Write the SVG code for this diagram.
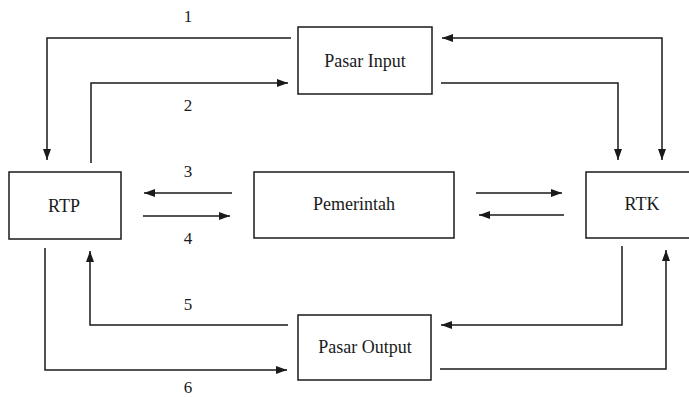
<svg xmlns="http://www.w3.org/2000/svg" width="689" height="397" viewBox="0 0 689 397">
<style>
.box{fill:#fff;stroke:#1a1a1a;stroke-width:1.5}
.lbl{font-size:18px;fill:#1a1a1a;text-anchor:middle}
.num{font-size:17px;fill:#1a1a1a;text-anchor:middle}
.ln{fill:none;stroke:#1a1a1a;stroke-width:1.5}
</style>
<defs>
<marker id="ah" markerUnits="userSpaceOnUse" markerWidth="11" markerHeight="8" refX="11" refY="4" orient="auto-start-reverse">
<path d="M0,0 L11,4 L0,8 z" fill="#1a1a1a"/>
</marker>
</defs>
<rect width="689" height="397" fill="#fff"/>
<g font-family="'Liberation Serif', 'DejaVu Serif', serif">
<g id="connectors">
<path class="ln" d="M291,38 H47 V160" marker-end="url(#ah)"/>
<path class="ln" d="M91,163 V83 H288" marker-end="url(#ah)"/>
<path class="ln" d="M442,38 H662 V160" marker-start="url(#ah)" marker-end="url(#ah)"/>
<path class="ln" d="M441,83 H618 V160" marker-end="url(#ah)"/>
<path class="ln" d="M232,193 H144" marker-end="url(#ah)"/>
<path class="ln" d="M143,216 H230" marker-end="url(#ah)"/>
<path class="ln" d="M476,193 H562" marker-end="url(#ah)"/>
<path class="ln" d="M564,215 H479" marker-end="url(#ah)"/>
<path class="ln" d="M622,246 V325 H441" marker-end="url(#ah)"/>
<path class="ln" d="M440,369 H666 V250" marker-end="url(#ah)"/>
<path class="ln" d="M288,325 H90 V251" marker-end="url(#ah)"/>
<path class="ln" d="M45,248 V370 H287" marker-end="url(#ah)"/>
<text class="num" x="188" y="22">1</text>
<text class="num" x="188" y="111">2</text>
<text class="num" x="188" y="177">3</text>
<text class="num" x="188" y="244">4</text>
<text class="num" x="188" y="310">5</text>
<text class="num" x="188" y="393">6</text>
</g>
<g id="pasar-input">
<rect class="box" x="298" y="27" width="134" height="67"/>
<text class="lbl" x="365" y="67">Pasar Input</text>
</g>
<g id="rtp">
<rect class="box" x="9" y="172" width="112" height="67"/>
<text class="lbl" x="64" y="212">RTP</text>
</g>
<g id="pemerintah">
<rect class="box" x="254" y="172" width="200" height="66"/>
<text class="lbl" x="354" y="210">Pemerintah</text>
</g>
<g id="rtk">
<rect class="box" x="586" y="172" width="110" height="66"/>
<text class="lbl" x="642" y="210">RTK</text>
</g>
<g id="pasar-output">
<rect class="box" x="298" y="315" width="133" height="65"/>
<text class="lbl" x="365" y="353">Pasar Output</text>
</g>
</g>
</svg>
